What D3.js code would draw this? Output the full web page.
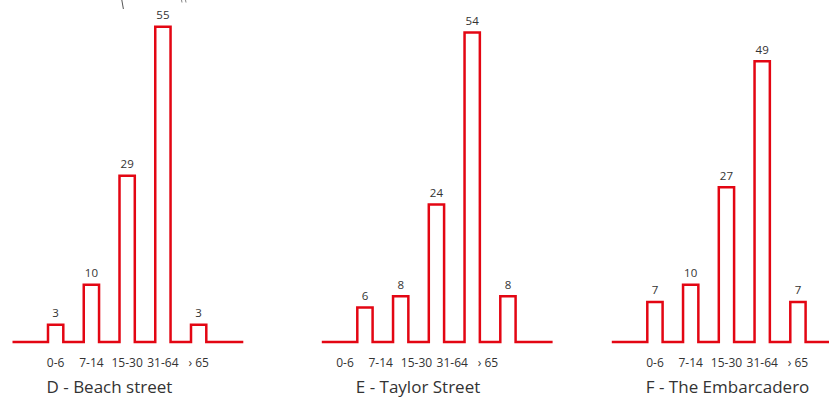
<!DOCTYPE html>
<html>
<head>
<meta charset="utf-8">
<script src="https://cdn.jsdelivr.net/npm/d3@7"></script>
<style>
  html, body { margin: 0; padding: 0; background: #fff; }
  svg { display: block; font-family: "Open Sans", "Noto Sans", sans-serif; }
</style>
</head>
<body>
<div id="chart"></div>
<script>
// ---- data ----
const categories = ["0-6", "7-14", "15-30", "31-64", "› 65"];
const beachValues = [3, 10, 29, 55, 3];
const taylorValues = [6, 8, 24, 54, 8];
const embarcaderoValues = [7, 10, 27, 49, 7];
const panelTitles = ["D - Beach street", "E - Taylor Street", "F - The Embarcadero"];
const panelSeries = [beachValues, taylorValues, embarcaderoValues];

// ---- layout ----
const W = 829, H = 398;
const panelStarts = [48, 357.3, 647.3];
const labelShifts = [0, -20, 0];
const bandSpan = 4 * 35.75 + 15.3;
const lead = 35.5, trail = 37;
const red = "#e30613";
const textCol = "#333";

const svg = d3.select("#chart").append("svg")
  .attr("width", W).attr("height", H);

const y = d3.scaleLinear().domain([0, 55]).range([342, 26.8]);

// stray annotation fragments at the top edge (cropped in the source)
svg.append("path").attr("d", "M121.8,0 L123.4,9")
  .attr("stroke", "#555").attr("stroke-width", 1).attr("fill", "none");
svg.append("path").attr("d", "M181.5,0 L182,2.5 M185.5,0 L186,2.5")
  .attr("stroke", "#777").attr("stroke-width", 0.9).attr("fill", "none");

panelSeries.forEach((vals, p) => {
  const x0 = panelStarts[p];
  const x = d3.scaleBand()
    .domain(categories)
    .range([x0, x0 + bandSpan])
    .paddingInner(1 - 15.3 / 35.75)
    .paddingOuter(0);

  const g = svg.append("g");

  // step outline
  const pts = [[x0 - lead, y(0)]];
  categories.forEach((c, i) => {
    const l = x(c), r = x(c) + x.bandwidth();
    pts.push([l, y(0)], [l, y(vals[i])], [r, y(vals[i])], [r, y(0)]);
  });
  pts.push([x0 + bandSpan + trail, y(0)]);

  g.append("path")
    .attr("d", d3.line()(pts))
    .attr("fill", "none")
    .attr("stroke", red)
    .attr("stroke-width", 2.5)
    .attr("stroke-linejoin", "miter");

  // value labels
  g.selectAll("text.val").data(vals).join("text")
    .attr("class", "val")
    .attr("x", (d, i) => x(categories[i]) + x.bandwidth() / 2)
    .attr("y", d => y(d) - 7.5)
    .attr("text-anchor", "middle")
    .attr("font-size", 11.5)
    .attr("fill", textCol)
    .text(d => d);

  // category axis
  const ax = g.append("g")
    .attr("transform", `translate(${labelShifts[p]},358)`)
    .call(d3.axisBottom(x).tickSize(0).tickPadding(0));
  ax.select(".domain").remove();
  ax.selectAll("text")
    .attr("font-size", 12)
    .attr("font-family", "\"Open Sans\", \"Noto Sans\", sans-serif")
    .attr("fill", textCol);

  // panel title
  g.append("text")
    .attr("x", x0 - 1.5)
    .attr("y", 393)
    .attr("font-size", 17)
    .attr("fill", textCol)
    .text(panelTitles[p]);
});
</script>
</body>
</html>
